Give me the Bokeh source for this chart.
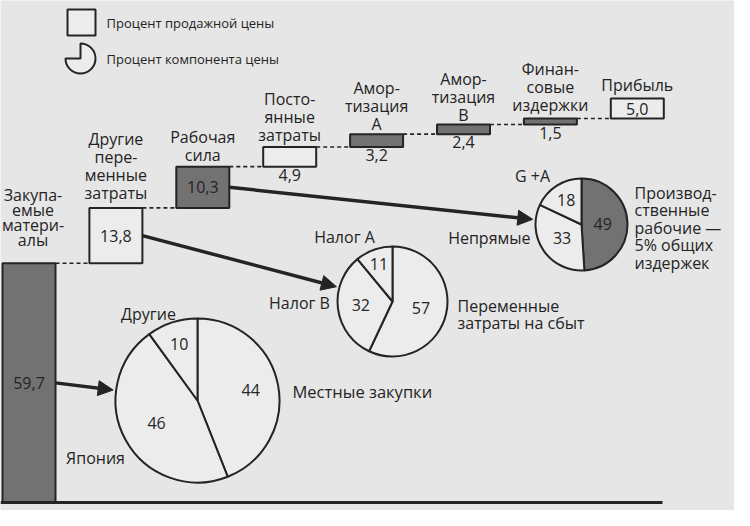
import math
from bokeh.plotting import figure
from bokeh.models import Range1d, Arrow, NormalHead
from bokeh.core.properties import value
from bokeh.embed import file_html
from bokeh.resources import INLINE

# ---------------- data ----------------
cost_items = ["Закупа-\nемые\nматери-\nалы", "Другие\nпере-\nменные\nзатраты", "Рабочая\nсила",
              "Посто-\nянные\nзатраты", "Амор-\nтизация\nА", "Амор-\nтизация\nВ",
              "Финан-\nсовые\nиздержки", "Прибыль"]
cost_values = [59.7, 13.8, 10.3, 4.9, 3.2, 2.4, 1.5, 5.0]
cost_labels = ["59,7", "13,8", "10,3", "4,9", "3,2", "2,4", "1,5", "5,0"]

purchase_names = ["Местные закупки", "Япония", "Другие"]
purchase_values = [44, 46, 10]

sales_names = ["Переменные\nзатраты на сбыт", "Налог В", "Налог А"]
sales_values = [57, 32, 11]

labor_names = ["Производ-\nственные\nрабочие —\n5% общих\nиздержек", "Непрямые", "G +A"]
labor_values = [49, 33, 18]

legend_texts = ["Процент продажной цены", "Процент компонента цены"]

# ---------------- style / layout ----------------
W, H = 734, 510
BG = "#e6e6e6"
LIGHT = "#ececec"
DARK = "#727272"
INK = "#242424"
FONT = value("Open Sans")
BASE = 510.0                 # image y of value 0
K = 404.0 / 100.8            # pixels per percent


def fx(ix):
    return ix - 8.0


def fy(iy):
    return (BASE - iy) / K


p = figure(width=W, height=H, output_backend="svg", toolbar_location=None,
           x_range=Range1d(0, W), y_range=Range1d(fy(518), fy(8)),
           min_border=0, background_fill_color=BG, border_fill_color=BG)
p.axis.visible = False
p.grid.visible = False
p.outline_line_color = None

# ---------------- waterfall ----------------
bar_dark = [True, False, True, False, True, True, True, False]
label_inside = [True, True, True, False, False, False, False, True]
label_gap = [-23, -15, -12, -12, -10, -10, -14, -14]
label_shift = [4, 0, 0, 0, 0, 0, 0, 0]
label_step = [15, 18, 18, 18, 18, 18, 18, 18]
n = len(cost_values)
centers = [fx(36.5 + i * 86.9) for i in range(n)]
half = 26.5
bottoms, tops = [], []
acc = 0.0
for v in cost_values:
    bottoms.append(acc)
    acc += v
    tops.append(acc)

p.quad(left=[c - half for c in centers], right=[c + half for c in centers],
       bottom=bottoms, top=tops,
       fill_color=[DARK if d else LIGHT for d in bar_dark],
       line_color=INK, line_width=2)

# dashed connectors
p.segment(x0=[centers[i] + half for i in range(n - 1)], y0=tops[:-1],
          x1=[centers[i + 1] - half for i in range(n - 1)], y1=tops[:-1],
          line_color=INK, line_width=1.6, line_dash="4 3")

# base line
p.segment(x0=[fx(8)], y0=[0], x1=[fx(670)], y1=[0], line_color=INK, line_width=3)

# category labels (line by line)
tx, ty, tt, toff, txo = [], [], [], [], []
for i in range(n):
    parts = cost_items[i].split("\n")
    m = len(parts)
    for j, s in enumerate(parts):
        tx.append(centers[i])
        ty.append(tops[i])
        tt.append(s)
        toff.append(label_gap[i] - (m - 1 - j) * label_step[i])
        txo.append(label_shift[i])
p.text(x=tx, y=ty, text=tt, text_align="center", text_baseline="middle",
       x_offset=txo, y_offset=toff, text_font=FONT, text_font_size="16px", text_color=INK)

# value labels
ins = [i for i in range(n) if label_inside[i]]
outs = [i for i in range(n) if not label_inside[i]]
p.text(x=[centers[i] for i in ins], y=[(bottoms[i] + tops[i]) / 2 for i in ins],
       text=[cost_labels[i] for i in ins], text_align="center", text_baseline="middle",
       text_font=FONT, text_font_size="16px", text_color=INK)
p.text(x=[centers[i] for i in outs], y=[bottoms[i] for i in outs],
       text=[cost_labels[i] for i in outs], text_align="center", text_baseline="top",
       y_offset=2, text_font=FONT, text_font_size="16px", text_color=INK)


# ---------------- pies ----------------
def pie(cx, cy, r, vals, fills, lab_r):
    total = float(sum(vals))
    starts, ends = [], []
    cum = 0.0
    for v in vals:
        starts.append(math.pi / 2 - 2 * math.pi * cum / total)
        cum += v
        ends.append(math.pi / 2 - 2 * math.pi * cum / total)
    p.wedge(x=[fx(cx)] * len(vals), y=[fy(cy)] * len(vals), radius=r, radius_units="screen",
            start_angle=starts, end_angle=ends, direction="clock",
            fill_color=fills, line_color=INK, line_width=2)
    lx, ly = [], []
    for a0, a1, lr in zip(starts, ends, lab_r):
        am = (a0 + a1) / 2
        lx.append(fx(cx + lr * r * math.cos(am)))
        ly.append(fy(cy - lr * r * math.sin(am)))
    p.text(x=lx, y=ly, text=[str(v) for v in vals], text_align="center",
           text_baseline="middle", text_font=FONT, text_font_size="16px", text_color=INK)


PIE1 = (205, 408, 82)
PIE2 = (400, 309, 55)
PIE3 = (589, 232, 46)
pie(*PIE1, purchase_values, [LIGHT, LIGHT, LIGHT], [0.66, 0.57, 0.72])
pie(*PIE2, sales_values, [LIGHT, LIGHT, LIGHT], [0.53, 0.58, 0.73])
pie(*PIE3, labor_values, [DARK, LIGHT, LIGHT], [0.46, 0.51, 0.62])


def lab(ix, iy, txt, align="center", size="16px", step=17.5):
    parts = txt.split("\n")
    p.text(x=[fx(ix)] * len(parts), y=[fy(iy)] * len(parts), text=parts,
           y_offset=[j * step for j in range(len(parts))],
           text_align=align, text_baseline="middle",
           text_font=FONT, text_font_size=size, text_color=INK)


# outer pie labels
lab(300, 399, purchase_names[0], "left", "16.5px")
lab(103, 465, purchase_names[1])
lab(156, 321, purchase_names[2])
lab(465, 313, sales_names[0], "left")
lab(307, 310, sales_names[1])
lab(352, 244, sales_names[2])
lab(642, 200, labor_names[0], "left")
lab(538, 245, labor_names[1], "right")
lab(540, 183, labor_names[2])


# ---------------- arrows ----------------
def arrow(bar_i, pie_geo):
    sx = centers[bar_i] + half
    sy = (bottoms[bar_i] + tops[bar_i]) / 2
    six, siy = sx + 8, BASE - sy * K
    cx, cy, r = pie_geo
    dx, dy = six - cx, siy - cy
    d = math.hypot(dx, dy)
    ex, ey = cx + dx / d * (r + 3), cy + dy / d * (r + 3)
    p.add_layout(Arrow(end=NormalHead(size=15, fill_color=INK, line_color=INK, line_width=1),
                       x_start=sx, y_start=sy, x_end=fx(ex), y_end=fy(ey),
                       line_color=INK, line_width=3.5))


arrow(0, PIE1)
arrow(1, PIE2)
arrow(2, PIE3)

# ---------------- legend ----------------
p.quad(left=[fx(75)], right=[fx(103)], bottom=[fy(43)], top=[fy(17)],
       fill_color=LIGHT, line_color=INK, line_width=2)
p.wedge(x=[fx(88)], y=[fy(66)], radius=15, radius_units="screen",
        start_angle=math.pi / 2, end_angle=math.pi, direction="clock",
        fill_color=LIGHT, line_color=INK, line_width=2)
lab(114, 30, legend_texts[0], "left", "13px")
lab(114, 66, legend_texts[1], "left", "13px")

open("out.html", "w").write(file_html(p, INLINE))
